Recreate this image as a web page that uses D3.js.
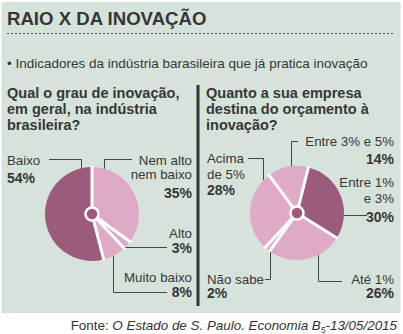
<!DOCTYPE html>
<html>
<head>
<meta charset="utf-8">
<script src="https://cdn.jsdelivr.net/npm/d3@7"></script>
<style>
  html, body { margin: 0; padding: 0; background: #fff; }
  svg { display: block; font-family: "Liberation Sans", Arial, sans-serif; }
</style>
</head>
<body>
<div id="chart"></div>
<script>
"use strict";

// grau de inovacao na industria (percent)
var grauLabels = ["Nem alto nem baixo", "Alto", "Muito baixo", "Baixo"];
var grauValues = [35, 3, 8, 54];
var grauDark = [false, false, false, true];

// parcela do orcamento destinada a inovacao (percent)
var orcLabels = ["Entre 1% e 3%", "Até 1%", "Não sabe", "Acima de 5%", "Entre 3% e 5%"];
var orcValues = [30, 26, 2, 28, 14];
var orcDark = [true, false, false, false, false];

var W = 403, H = 334;
var BG = "#d6e3db", DARK = "#9c5a7d", LIGHT = "#dfaac6", INK = "#363636";
var R = 47;

var svg = d3.select("#chart").append("svg").attr("width", W).attr("height", H);

// panel
svg.append("rect").attr("x", 1.5).attr("y", 2).attr("width", 399).attr("height", 311).attr("fill", BG);

svg.append("text").attr("x", 7).attr("y", 25)
  .attr("font-size", 18.6).attr("font-weight", "bold").attr("fill", INK)
  .text("RAIO X DA INOVAÇÃO");

svg.append("line").attr("x1", 7).attr("x2", 394).attr("y1", 33.5).attr("y2", 33.5)
  .attr("stroke", "#555").attr("stroke-width", 1).attr("stroke-dasharray", "2,2");

svg.append("text").attr("x", 7).attr("y", 68)
  .attr("font-size", 13.5).attr("fill", INK)
  .text("• Indicadores da indústria barasileira que já pratica inovação");

// divider between the two questions
svg.append("rect").attr("x", 196.5).attr("y", 85).attr("width", 3).attr("height", 221).attr("fill", "#333");

function multiline(x, y0, lines, anchor) {
  var t = svg.append("text").attr("x", x).attr("y", y0)
    .attr("text-anchor", anchor || "start").attr("fill", INK);
  lines.forEach(function (l, i) {
    t.append("tspan").attr("x", x).attr("y", y0 + l.dy)
      .attr("font-size", l.size || 13.3)
      .attr("font-weight", l.bold ? "bold" : "normal")
      .text(l.text);
  });
  return t;
}

multiline(7, 98, [
  { text: "Qual o grau de inovação,", dy: 0, size: 14.5, bold: true },
  { text: "em geral, na indústria", dy: 16, size: 14.5, bold: true },
  { text: "brasileira?", dy: 32, size: 14.5, bold: true }
]);
multiline(206, 98, [
  { text: "Quanto a sua empresa", dy: 0, size: 14.5, bold: true },
  { text: "destina do orçamento à", dy: 16, size: 14.5, bold: true },
  { text: "inovação?", dy: 32, size: 14.5, bold: true }
]);

var arc = d3.arc().innerRadius(0).outerRadius(R);

function drawPie(cx, cy, values, dark, startDeg) {
  var start = startDeg * Math.PI / 180;
  var pie = d3.pie().sort(null).startAngle(start).endAngle(start + 2 * Math.PI);
  var g = svg.append("g").attr("transform", "translate(" + cx + "," + cy + ")");
  var arcs = pie(values);
  g.selectAll("path.slice").data(arcs).enter().append("path")
    .attr("class", "slice")
    .attr("d", arc)
    .attr("fill", function (d, i) { return dark[i] ? DARK : LIGHT; });
  // white spokes on the slice boundaries
  g.selectAll("line.spoke").data(arcs).enter().append("line")
    .attr("class", "spoke")
    .attr("x1", 0).attr("y1", 0)
    .attr("x2", function (d) { return (R + 1) * Math.sin(d.startAngle); })
    .attr("y2", function (d) { return -(R + 1) * Math.cos(d.startAngle); })
    .attr("stroke", "#fff").attr("stroke-width", 3);
  g.append("circle").attr("r", 6.5).attr("fill", DARK)
    .attr("stroke", "#fff").attr("stroke-width", 2.5);
  return g;
}

// point on the rim at horizontal offset dx (sign of side picks top/bottom)
function rimY(cy, dx, below) {
  var h = Math.sqrt(R * R - dx * dx);
  return below ? cy + h : cy - h;
}
function rimX(cx, dy, right) {
  var w = Math.sqrt(R * R - dy * dy);
  return right ? cx + w : cx - w;
}

function leader(points) {
  svg.append("path").attr("d", d3.line()(points))
    .attr("fill", "none").attr("stroke", "#444").attr("stroke-width", 1);
}

// ---- left pie
var lx = 92, ly = 214;
drawPie(lx, ly, grauValues, grauDark, 0);

multiline(7, 164.5, [
  { text: "Baixo", dy: 0 },
  { text: grauValues[3] + "%", dy: 18.5, bold: true, size: 14 }
]);
leader([[49, 159.5], [81.5, 159.5], [81.5, rimY(ly, -10.5, false)]]);

multiline(192, 164.5, [
  { text: "Nem alto", dy: 0 },
  { text: "nem baixo", dy: 14.5 },
  { text: grauValues[0] + "%", dy: 33, bold: true, size: 14 }
], "end");
leader([[132, 159.5], [104.5, 159.5], [104.5, rimY(ly, 12.5, false)]]);

multiline(192, 237.5, [
  { text: "Alto", dy: 0 },
  { text: grauValues[1] + "%", dy: 15.5, bold: true, size: 14 }
], "end");
leader([[rimX(lx, 33, true), 247.5], [167, 247.5]]);

multiline(192, 281.5, [
  { text: "Muito baixo", dy: 0 },
  { text: grauValues[2] + "%", dy: 15.5, bold: true, size: 14 }
], "end");
leader([[113.5, rimY(ly, 21.5, true)], [113.5, 292.5], [167, 292.5]]);

// ---- right pie
var rx = 297, ry = 213;
drawPie(rx, ry, orcValues, orcDark, 14);

multiline(394, 145.5, [
  { text: "Entre 3% e 5%", dy: 0 },
  { text: orcValues[4] + "%", dy: 18.5, bold: true, size: 14 }
], "end");
leader([[291.5, rimY(ry, -5.5, false)], [291.5, 141.5], [298, 141.5]]);

multiline(207, 162.5, [
  { text: "Acima", dy: 0 },
  { text: "de 5%", dy: 16.5 },
  { text: orcValues[3] + "%", dy: 32.5, bold: true, size: 14 }
]);
leader([[248, 158.5], [263.5, 158.5], [263.5, rimY(ry, -33.5, false)]]);

multiline(394, 186.5, [
  { text: "Entre 1%", dy: 0 },
  { text: "e 3%", dy: 16 },
  { text: orcValues[0] + "%", dy: 35, bold: true, size: 14 }
], "end");
leader([[rimX(rx, 2, true), 215.5], [367, 215.5]]);

multiline(207, 283.5, [
  { text: "Não sabe", dy: 0 },
  { text: orcValues[2] + "%", dy: 14.5, bold: true, size: 14 }
]);
leader([[265, 279.5], [270.5, 279.5], [270.5, rimY(ry, -26.5, true)]]);

multiline(394, 283.5, [
  { text: "Até 1%", dy: 0 },
  { text: orcValues[1] + "%", dy: 14.5, bold: true, size: 14 }
], "end");
leader([[318.5, rimY(ry, 21.5, true)], [318.5, 281.5], [342, 281.5]]);

// source line
var src = svg.append("text").attr("x", 397).attr("y", 329.5)
  .attr("text-anchor", "end").attr("font-size", 13.4).attr("fill", "#333");
src.append("tspan").text("Fonte: ");
src.append("tspan").attr("font-style", "italic").text("O Estado de S. Paulo. Economia B");
src.append("tspan").attr("font-style", "italic").attr("font-size", 8.5).attr("dy", 3).text("5");
src.append("tspan").attr("font-style", "italic").attr("dy", -3).text("-13/05/2015");
</script>
</body>
</html>
